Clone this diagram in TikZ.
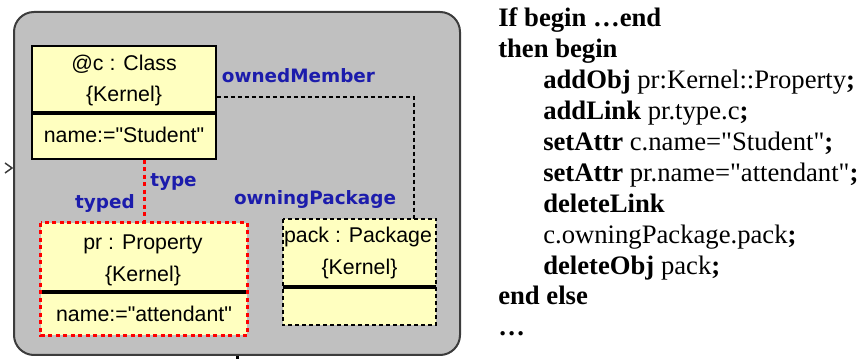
\documentclass[tikz,border=0pt]{standalone}
\usepackage{fontspec}
\setmainfont{Liberation Serif}[Ligatures=TeXOff]
\newfontfamily\uifont{Liberation Sans}[Ligatures=TeXOff]
\newfontfamily\lblfont{DejaVu Sans}
\newdimen\px \px=0.75pt
\definecolor{framefill}{RGB}{192,192,192}
\definecolor{frameline}{RGB}{60,60,60}
\definecolor{objfill}{RGB}{255,255,192}
\definecolor{rolecol}{RGB}{28,28,172}
\definecolor{newred}{RGB}{255,0,0}
\tikzset{
  frame/.style={draw=frameline, fill=framefill, line width=2\px, rounded corners=20\px},
  objbox/.style={fill=objfill, inner sep=0pt},
  keptborder/.style={draw=black, line width=1.5\px},
  newborder/.style={draw=newred, line width=3\px, dash pattern=on 4\px off 3.5\px},
  delborder/.style={draw=black, line width=1.6\px, dash pattern=on 4\px off 3\px},
  slot/.style={draw=black, line width=3.5\px},
  boxtext/.style={font=\uifont\fontsize{16}{19}\selectfont, inner sep=0pt, anchor=base},
  role/.style={font=\lblfont\bfseries\fontsize{13.8}{16}\selectfont, text=rolecol, inner sep=0pt, anchor=base},
  dellink/.style={draw=black, line width=1.5\px, dash pattern=on 4\px off 3\px},
  newlink/.style={draw=newred, line width=3\px, dash pattern=on 4\px off 3.5\px},
  code/.style={font=\fontsize{20}{24}\selectfont, inner sep=0pt, anchor=base west},
}
\begin{document}
\begin{tikzpicture}[x=0.75pt, y=-0.75pt]
\useasboundingbox (0,0) rectangle (864,359);

% rule frame
\node[frame, minimum width=446\px, minimum height=343\px] (frame) at (237,183.5) {};
\draw[frameline, line width=1.5\px] (5,163) -- (12,168) -- (5,173);
\draw[black, line width=3\px] (frame.south) -- ++(0,6);

% @c : Class
\node[objbox, keptborder, minimum width=184\px, minimum height=113\px] (c) at (124,102.5) {};
\draw[slot] (c.west |- 0,113) -- (c.east |- 0,113);
\node[boxtext] (ctitle) at (124,71) {@c : Class};
\node[boxtext] (cpkg) at (124,102) {\{Kernel\}};
\node[boxtext] (cattr) at (124,143) {name:="Student"};

% pr : Property (created)
\node[objbox, minimum width=206\px, minimum height=112\px] (pr) at (144,279) {};
\draw[slot] (pr.west |- 0,292) -- (pr.east |- 0,292);
\draw[newborder] (pr.north west) rectangle (pr.south east);
\node[boxtext] (prtitle) at (143,250) {pr : Property};
\node[boxtext] (prpkg) at (143,282) {\{Kernel\}};
\node[boxtext] (prattr) at (144,322) {name:="attendant"};

% pack : Package (deleted)
\node[objbox, minimum width=153\px, minimum height=106\px] (pack) at (359.5,272) {};
\draw[slot] (pack.west |- 0,287) -- (pack.east |- 0,287);
\draw[delborder] (pack.north west) rectangle (pack.south east);
\node[boxtext] (packtitle) at (358,243) {pack : Package};
\node[boxtext] (packpkg) at (359.5,275) {\{Kernel\}};

% links
\draw[dellink] (c.east |- 0,97) -| (pack.north -| 414,0);
\draw[newlink] (c.south -| pr.north) -- (pr.north);

% role names
\node[role] (rowned) at (298.5,83) {ownedMember};
\node[role] (rowning) at (315,205) {owningPackage};
\node[role] (rtype) at (173.5,187) {type};
\node[role] (rtyped) at (105,209) {typed};

% transformation rule text
\node[code] (l1) at (498,27) {\textbf{If begin …end}};
\node[code] (l2) at (498,58) {\textbf{then begin}};
\node[code] (l3) at (543,89) {\textbf{addObj} pr:Kernel::Property\textbf{;}};
\node[code] (l4) at (543,120) {\textbf{addLink} pr.type.c\textbf{;}};
\node[code] (l5) at (543,151) {\textbf{setAttr} c.name="Student"\textbf{;}};
\node[code] (l6) at (543,182) {\textbf{setAttr} pr.name="attendant"\textbf{;}};
\node[code] (l7) at (543,213) {\textbf{deleteLink}};
\node[code] (l8) at (543,244) {c.owningPackage.pack\textbf{;}};
\node[code] (l9) at (543,275) {\textbf{deleteObj} pack\textbf{;}};
\node[code] (l10) at (498,305) {\textbf{end else}};
\node[code] (l11) at (498,336) {\textbf{…}};
\end{tikzpicture}
\end{document}
